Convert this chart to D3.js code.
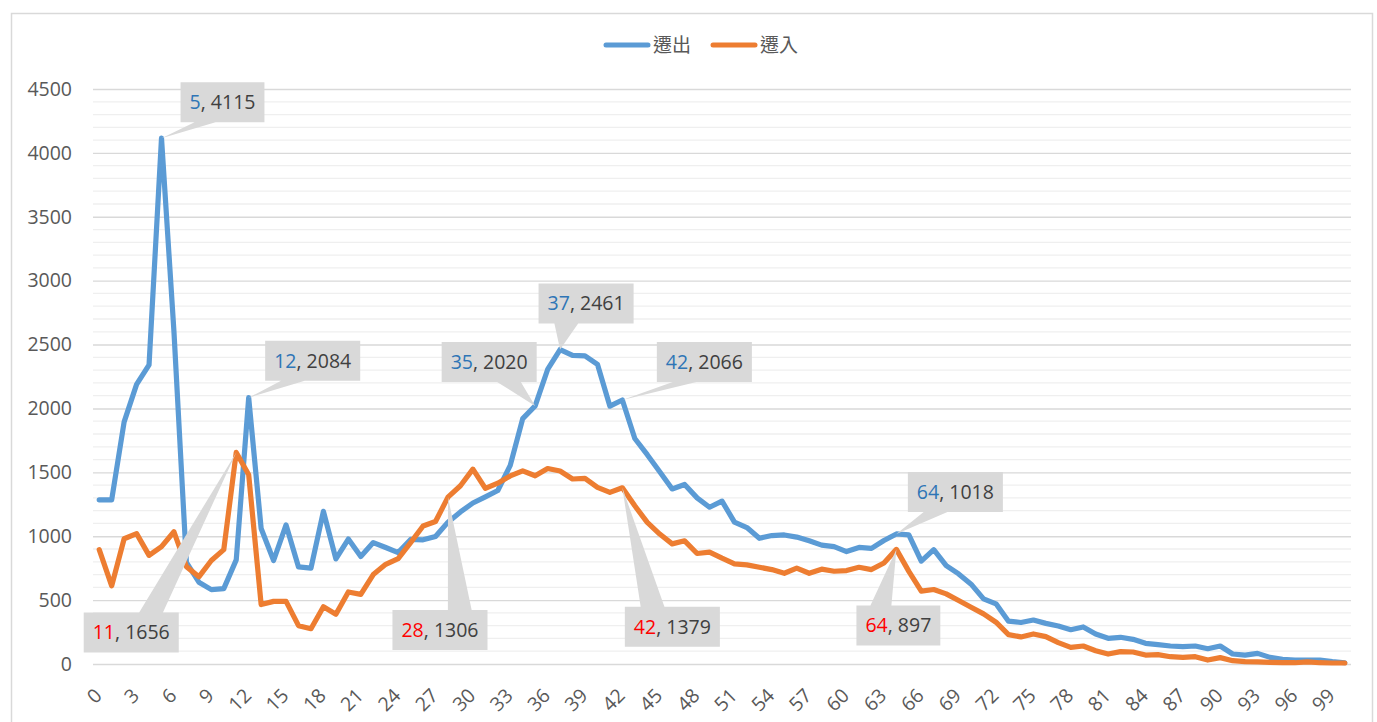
<!DOCTYPE html>
<html>
<head>
<meta charset="utf-8">
<script src="https://cdn.jsdelivr.net/npm/d3@7"></script>
<style>
  html, body { margin: 0; padding: 0; background: #fff; }
  svg { display: block; }
</style>
</head>
<body>
<svg id="chart" width="1377" height="722"></svg>
<script>
// ---- data ----
const categories = [0,1,2,3,4,5,6,7,8,9,10,11,12,13,14,15,16,17,18,19,20,21,22,23,24,25,26,27,28,29,30,31,32,33,34,35,36,37,38,39,40,41,42,43,44,45,46,47,48,49,50,51,52,53,54,55,56,57,58,59,60,61,62,63,64,65,66,67,68,69,70,71,72,73,74,75,76,77,78,79,80,81,82,83,84,85,86,87,88,89,90,91,92,93,94,95,96,97,98,99,100];
const outValues = [1285,1285,1895,2188,2341,4115,2600,795,640,582,590,815,2084,1060,810,1088,760,750,1195,822,978,842,950,912,872,975,972,998,1110,1190,1260,1308,1358,1555,1920,2020,2305,2461,2415,2412,2345,2018,2066,1765,1638,1505,1370,1405,1300,1227,1275,1110,1068,984,1005,1010,993,964,930,918,880,912,905,966,1018,1010,805,895,770,705,625,510,471,335,325,344,318,297,268,290,235,201,209,193,162,151,141,136,141,120,141,78,70,83,52,37,31,31,31,18,10];
const inValues = [895,612,980,1020,850,918,1035,762,682,810,895,1656,1481,465,490,490,300,276,448,390,564,545,700,780,825,950,1080,1115,1306,1395,1525,1374,1415,1472,1512,1473,1530,1510,1448,1452,1382,1343,1379,1238,1108,1017,940,964,865,875,828,784,776,757,739,710,750,710,742,726,731,757,739,791,897,725,570,583,549,497,444,392,327,230,212,235,214,167,130,141,104,78,97,94,70,73,57,52,57,31,50,26,18,16,13,10,10,16,10,8,8];
const seriesNames = ["遷出", "遷入"];
const yTicks = [0,500,1000,1500,2000,2500,3000,3500,4000,4500];
const xTickLabels = [0,3,6,9,12,15,18,21,24,27,30,33,36,39,42,45,48,51,54,57,60,63,66,69,72,75,78,81,84,87,90,93,96,99];
// annotated points: series index, category; label offset (dx, dy) of box centre from point
const annoSeries = [0,0,0,0,0,0,1,1,1,1];
const annoCats   = [5,12,35,37,42,64,11,28,42,64];
const annoDx     = [61,64,-46,26,82,59,-105,-8,50,2];
const annoDy     = [-36,-37,-44,-46,-38,-42,180,133,139,76];

// ---- layout / style ----
const W = 1377, H = 722;
const plot = { left: 93, right: 1351, top: 89, bottom: 664 };
const colors = ["#5B9BD5", "#ED7D31"];
const idxColors = ["#2E75B6", "#FF0000"];
const font = "'Open Sans', 'Noto Sans', sans-serif";
const cjkFont = "'Noto Sans CJK TC', 'Noto Sans CJK SC', sans-serif";

const svg = d3.select("#chart");
svg.append("rect").attr("width", W).attr("height", H).attr("fill", "#fff");
svg.append("rect").attr("x", 11.5).attr("y", 13.5).attr("width", 1361).attr("height", 740)
  .attr("fill", "none").attr("stroke", "#d9d9d9").attr("stroke-width", 1.5);

const x = d3.scaleBand().domain(categories).range([plot.left, plot.right]).paddingInner(0).paddingOuter(0);
const px = c => x(c) + x.bandwidth() / 2;
const y = d3.scaleLinear().domain([0, 4500]).range([plot.bottom, plot.top]);

// minor gridlines
const minor = y.ticks(45).filter(v => v % 500 !== 0);
svg.append("g").selectAll("line").data(minor).join("line")
  .attr("x1", plot.left).attr("x2", plot.right)
  .attr("y1", d => y(d)).attr("y2", d => y(d))
  .attr("stroke", "#efefef").attr("stroke-width", 1.3);

// y axis with major gridlines
const yAxis = d3.axisLeft(y).tickValues(yTicks).tickFormat(d3.format("d"))
  .tickSize(-(plot.right - plot.left)).tickPadding(21);
const gy = svg.append("g").attr("transform", `translate(${plot.left},0)`).call(yAxis);
gy.select(".domain").remove();
gy.selectAll(".tick line").attr("stroke", "#d9d9d9").attr("stroke-width", 1.4);
gy.selectAll(".tick text").attr("fill", "#595959").style("font-family", font).style("font-size", "19.5px");

// x axis labels (rotated)
const xAxis = d3.axisBottom(x).tickValues(xTickLabels).tickSize(0);
const gx = svg.append("g").attr("transform", `translate(0,${plot.bottom})`).call(xAxis);
gx.select(".domain").remove();
gx.selectAll(".tick text")
  .attr("fill", "#595959").style("font-family", font).style("font-size", "19.5px")
  .attr("text-anchor", "end")
  .attr("x", 0).attr("y", 0).attr("dy", "0.35em")
  .attr("transform", "translate(-1,28) rotate(-45)");

// lines
const seriesData = [outValues, inValues];
const line = d3.line().x((d, i) => px(categories[i])).y(d => y(d));
seriesData.forEach((vals, s) => {
  svg.append("path").datum(vals)
    .attr("d", line)
    .attr("fill", "none")
    .attr("stroke", colors[s])
    .attr("stroke-width", 5.2)
    .attr("stroke-linejoin", "round")
    .attr("stroke-linecap", "round");
});

// callout labels
function calloutPath(x0, y0, w, h, tx, ty) {
  const cx = x0 + w / 2, cy = y0 + h / 2;
  const dxPos = tx - cx, dyPos = ty - cy;
  const dxy = Math.abs(dxPos * h) - Math.abs(dyPos * w);
  const x1 = x0 + w * (dxPos > 0 ? 7 : 2) / 12, x2 = x0 + w * (dxPos > 0 ? 10 : 5) / 12;
  const y1 = y0 + h * (dyPos > 0 ? 7 : 2) / 12, y2 = y0 + h * (dyPos > 0 ? 10 : 5) / 12;
  const r = x0 + w, b = y0 + h;
  let pts;
  if (dxy > 0) {
    if (dxPos > 0) pts = [[x0,y0],[r,y0],[r,y1],[tx,ty],[r,y2],[r,b],[x0,b]];
    else pts = [[x0,y0],[r,y0],[r,b],[x0,b],[x0,y2],[tx,ty],[x0,y1]];
  } else {
    if (dyPos > 0) pts = [[x0,y0],[r,y0],[r,b],[x2,b],[tx,ty],[x1,b],[x0,b]];
    else pts = [[x0,y0],[x1,y0],[tx,ty],[x2,y0],[r,y0],[r,b],[x0,b]];
  }
  return "M" + pts.map(p => p.join(",")).join("L") + "Z";
}

const annoLayer = svg.append("g");
annoCats.forEach((c, k) => {
  const s = annoSeries[k];
  const v = seriesData[s][categories.indexOf(c)];
  const tx = px(c), ty = y(v);
  const g = annoLayer.append("g");
  const path = g.append("path").attr("fill", "#d9d9d9");
  const t = g.append("text")
    .style("font-family", font).style("font-size", "19.5px")
    .attr("text-anchor", "middle").attr("dy", "0.35em");
  t.append("tspan").attr("fill", idxColors[s]).text(c);
  t.append("tspan").attr("fill", "#404040").text(", " + v);
  const cx = tx + annoDx[k], cy = ty + annoDy[k];
  t.attr("x", cx).attr("y", cy);
  const tw = t.node().getComputedTextLength();
  const w = tw + 18, h = 40;
  path.attr("d", calloutPath(cx - w / 2, cy - h / 2, w, h, tx, ty));
});

// legend
const legend = svg.append("g");
const legX = [604, 711];
seriesNames.forEach((n, s) => {
  legend.append("line")
    .attr("x1", legX[s] + 2).attr("x2", legX[s] + 44)
    .attr("y1", 45).attr("y2", 45)
    .attr("stroke", colors[s]).attr("stroke-width", 5).attr("stroke-linecap", "round");
  legend.append("text")
    .attr("x", legX[s] + 49).attr("y", 45).attr("dy", "0.36em")
    .attr("fill", "#595959")
    .style("font-family", cjkFont).style("font-size", "19px")
    .text(n);
});
</script>
</body>
</html>
